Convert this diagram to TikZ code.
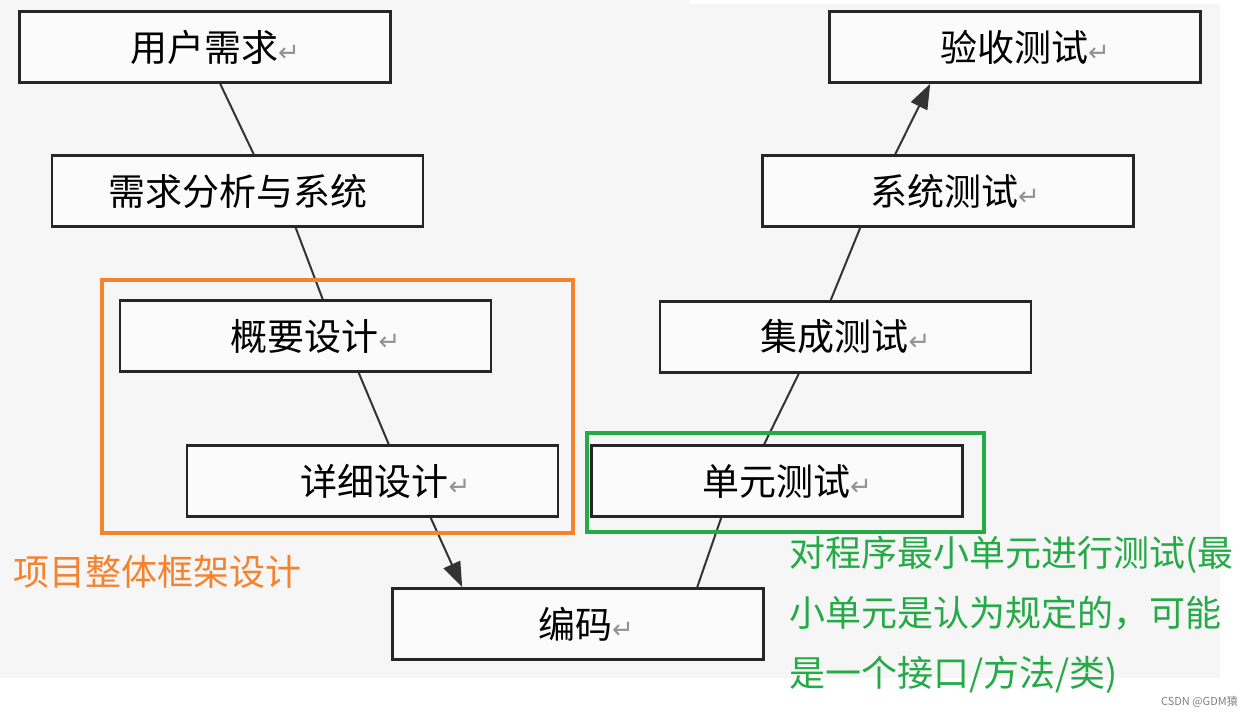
\documentclass[tikz,border=0pt]{standalone}
\usepackage{fontspec}
\usetikzlibrary{calc,arrows.meta}
\newfontfamily\cjk{Noto Sans CJK SC}
\newfontfamily\dv{DejaVu Sans}
\definecolor{bggray}{RGB}{246,246,246}
\definecolor{myorange}{RGB}{245,130,45}
\definecolor{mygreen}{RGB}{38,170,72}
\newcommand{\ret}{{\dv\fontsize{26}{26}\selectfont\color{gray!85}↵}}
\tikzset{
  stagebox/.style={draw=black!85, line width=2.6pt, fill=white!60!bggray, minimum width=371pt, minimum height=71pt, inner sep=0pt, font=\cjk\fontsize{37}{40}\selectfont},
  link/.style={draw=black!80, line width=2pt},
  arrowlink/.style={link, -{Triangle[length=25pt,width=18pt]}},
  framebox/.style={line width=3.5pt}
}
\begin{document}
\begin{tikzpicture}[x=1pt,y=-1pt]
\useasboundingbox (0,0) rectangle (1252,717);
\fill[white] (0,0) rectangle (1252,717);
\fill[bggray] (0,4) rectangle (1220,678);
\fill[bggray] (0,0) rectangle (690,4);
% left branch
\node[stagebox] (u1) at (205,47) {\hspace*{20pt}用户需求\ret};
\node[stagebox] (u2) at (237.5,191) {需求分析与系统};
\node[stagebox] (u3) at (305.5,336) {\hspace*{20pt}概要设计\ret};
\node[stagebox] (u4) at (372.5,481) {\hspace*{26pt}详细设计\ret};
\node[stagebox] (u5) at (578,624) {\hspace*{16pt}编码\ret};
% right branch
\node[stagebox] (r1) at (777,481) {\hspace*{20pt}单元测试\ret};
\node[stagebox] (r2) at (845.5,337) {集成测试\ret};
\node[stagebox] (r3) at (948,191) {\hspace*{14pt}系统测试\ret};
\node[stagebox] (r4) at (1015,47) {\hspace*{20pt}验收测试\ret};
% connectors
\draw[link] ($(u1.south west)+(202,0)$) -- ($(u2.north west)+(203,0)$);
\draw[link] ($(u2.south west)+(245,0)$) -- ($(u3.north west)+(204,0)$);
\draw[link] ($(u3.south west)+(240,0)$) -- ($(u4.north west)+(203,0)$);
\draw[arrowlink] ($(u4.south west)+(245,0)$) -- ($(u5.north west)+(71,0)$);
\draw[link] ($(u5.north west)+(306,0)$) -- ($(r1.south west)+(131,0)$);
\draw[link] ($(r1.north west)+(174,0)$) -- ($(r2.south west)+(140,0)$);
\draw[link] ($(r2.north west)+(172,0)$) -- ($(r3.south west)+(99,0)$);
\draw[arrowlink] ($(r3.north west)+(134,0)$) -- ($(r4.south west)+(102,0)$);
% highlight frames
\draw[framebox, myorange] (102,280) rectangle (573,533);
\draw[framebox, mygreen] (587,433) rectangle (984,532);
% annotations
\node[anchor=west, text=myorange, inner sep=0pt, font=\cjk\fontsize{36}{40}\selectfont] (lab1) at (13,572) {项目整体框架设计};
\node[anchor=north west, text=mygreen, inner sep=0pt, align=left, font=\cjk\fontsize{36}{60}\selectfont] (lab2) at (789,536) {对程序最小单元进行测试(最\\小单元是认为规定的，可能\\是一个接口/方法/类)};
\node[anchor=east, text=gray, inner sep=0pt, font=\cjk\fontsize{11}{12}\selectfont] (wm) at (1238,702) {CSDN @GDM猿};
\end{tikzpicture}
\end{document}
